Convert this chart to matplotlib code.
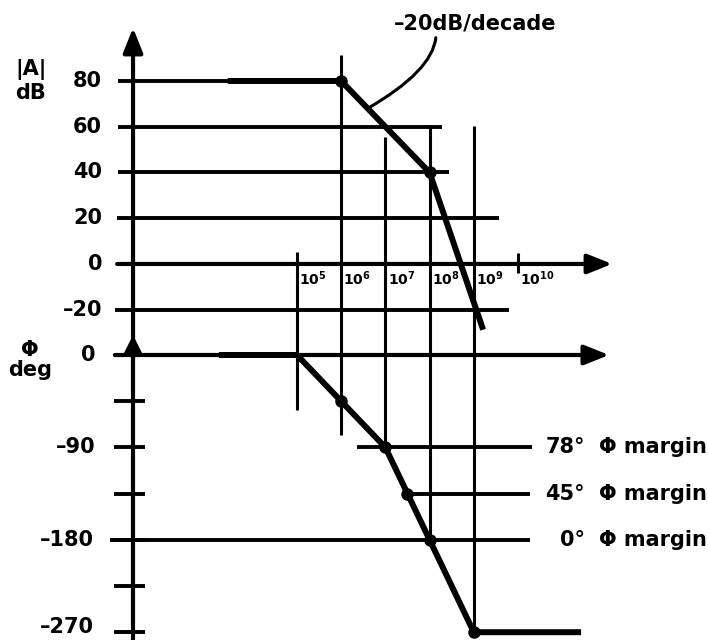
import numpy as np
import matplotlib
matplotlib.use('Agg')
import matplotlib.pyplot as plt

plt.rcParams['font.family'] = ['DejaVu Sans']
plt.rcParams['font.weight'] = 'bold'
plt.rcParams['mathtext.fontset'] = 'dejavusans'

# frequency is plotted in decades, i.e. log10(f)
decades = [5, 6, 7, 8, 9]
decade_labels = [r'$\mathbf{10^{5}}$', r'$\mathbf{10^{6}}$', r'$\mathbf{10^{7}}$',
                 r'$\mathbf{10^{8}}$', r'$\mathbf{10^{9}}$', r'$\mathbf{10^{10}}$']
decade_top_db = [5.2, 91.4, 55.5, 60.8, 60.3]       # where each decade line starts (dB)
decade_bottom_deg = [-53.6, -77.9, -92.5, -180, -270]  # where it stops (deg)

# magnitude scale, dB
mag_ticks = [80, 60, 40, 20, 0, -20]
mag_labels = ['80', '60', '40', '20', '0', '–20']
mag_grid_start = [0.95, 0.95, 0.95, 0.93, 0.93, 0.88]
mag_grid_end = [6.0, 8.28, 8.44, 9.57, 12.13, 9.80]

# phase scale, degrees
phase_ticks = [0, -45, -90, -135, -180, -225, -270]
phase_labels = ['0', '', '–90', '', '–180', '', '–270']

# asymptotic open loop gain |A|
mag_f = [3.5, 6, 8, 9.19]
mag_db = [80, 80, 40, -27.5]
mag_dot_f = [6, 8]
mag_dot_db = [80, 40]

# asymptotic phase
phase_f = [3.3, 5, 7, 9, 11.36]
phase_deg = [0, 0, -90, -270, -270]
phase_dot_f = [6, 7, 7.5, 8, 9]
phase_dot_deg = [-45, -90, -135, -180, -270]

# phase margin lines
margin_text = ['78°', '45°', '0°']
margin_deg = [-90, -135, -180]
margin_start = [6.36, 7.5, 0.77]
margin_end = [10.32, 10.27, 10.27]

yaxis_x = 1.29
k = dict(color='black', clip_on=False)

fig = plt.figure(figsize=(7.08, 6.4), dpi=100)
ax_mag = fig.add_axes([0, 285 / 640, 1, 355 / 640])
ax_ph = fig.add_axes([0, 0, 1, 285 / 640])
ax_mag.set_xlim(-1.72, 14.30)
ax_ph.set_xlim(-1.72, 14.30)
ax_mag.set_ylim(-39.8, 115.4)
ax_ph.set_ylim(-277.6, 0)
ax_mag.axis('off')
ax_ph.axis('off')
mag_lo = ax_mag.get_ylim()[0]
ph_lo = ax_ph.get_ylim()[0]

head = 'head_length=1.5,head_width=0.6'
arrow = dict(arrowstyle='-|>,' + head, lw=3.0, color='black',
             mutation_scale=10, shrinkA=0, shrinkB=0)

# --- magnitude plot ---
for v, lab, x0, x1 in zip(mag_ticks, mag_labels, mag_grid_start, mag_grid_end):
    if v == 0:
        ax_mag.annotate('', xy=(x1, v), xytext=(x0, v), arrowprops=arrow,
                        annotation_clip=False)
    else:
        ax_mag.hlines(v, x0, x1, lw=2.8, **k)
    ax_mag.text(0.59, v, lab, ha='right', va='center', fontsize=15)

ax_mag.annotate('', xy=(yaxis_x, 103.2), xytext=(yaxis_x, mag_lo),
                arrowprops=arrow, annotation_clip=False)
ax_mag.text(-1.02, 80, '|A|\ndB', ha='center', va='center', fontsize=15,
            linespacing=1.15)

for d, top, lab in zip(decades, decade_top_db, decade_labels):
    ax_mag.vlines(d, mag_lo, top, lw=2.2, **k)
    ax_mag.text(d + 0.05, -6.5, lab, ha='left', va='center', fontsize=10)
ax_mag.vlines(10, -3.9, 4.8, lw=2.2, **k)
ax_mag.text(10.05, -6.5, decade_labels[-1], ha='left', va='center', fontsize=10)

ax_mag.plot(mag_f, mag_db, lw=4.3, solid_joinstyle='round', zorder=5, **k)
ax_mag.plot(mag_dot_f, mag_dot_db, 'o', ms=8, zorder=6, **k)

ax_mag.annotate('–20dB/decade', xy=(6.6, np.interp(6.6, mag_f, mag_db)),
                xytext=(9.03, 105.1), ha='center', va='center', fontsize=15,
                arrowprops=dict(arrowstyle='-', lw=2.2, color='black',
                                connectionstyle='angle3,angleA=90,angleB=30',
                                relpos=(0.26, 0.0), shrinkA=1, shrinkB=0))

# --- phase plot ---
for d, bot in zip(decades, decade_bottom_deg):
    ax_ph.vlines(d, bot, 0, lw=2.2, **k)

ax_ph.vlines(yaxis_x, ph_lo, 0, lw=3.0, **k)
ax_ph.annotate('', xy=(yaxis_x, 19.5), xytext=(yaxis_x, -5),
               arrowprops=dict(arrow, arrowstyle='-|>,head_length=1.1,head_width=0.55'),
               annotation_clip=False)
ax_ph.annotate('', xy=(12.06, 0), xytext=(0.88, 0), arrowprops=arrow,
               annotation_clip=False)

for v, lab in zip(phase_ticks, phase_labels):
    ax_ph.hlines(v, 0.86, 1.57, lw=2.8, **k)
    if lab:
        x = 0.44 if v in (0, -90) else 0.40
        # keep the lowest label inside the page
        y = max(v, -265)
        ax_ph.text(x, y, lab, ha='right', va='center', fontsize=15)
ax_ph.text(-1.04, -4.9, 'Φ\ndeg', ha='center', va='center', fontsize=15,
           linespacing=1.05)

for lab, v, x0, x1 in zip(margin_text, margin_deg, margin_start, margin_end):
    ax_ph.hlines(v, x0, x1, lw=2.8, **k)
    ax_ph.text(11.52, v, lab, ha='right', va='center', fontsize=15)
    ax_ph.text(11.83, v, 'Φ margin', ha='left', va='center', fontsize=15)

ax_ph.plot(phase_f, phase_deg, lw=4.3, solid_joinstyle='round', zorder=5, **k)
ax_ph.plot(phase_dot_f, phase_dot_deg, 'o', ms=8, zorder=6, **k)

fig.savefig('out.png', dpi=100, facecolor='white')
